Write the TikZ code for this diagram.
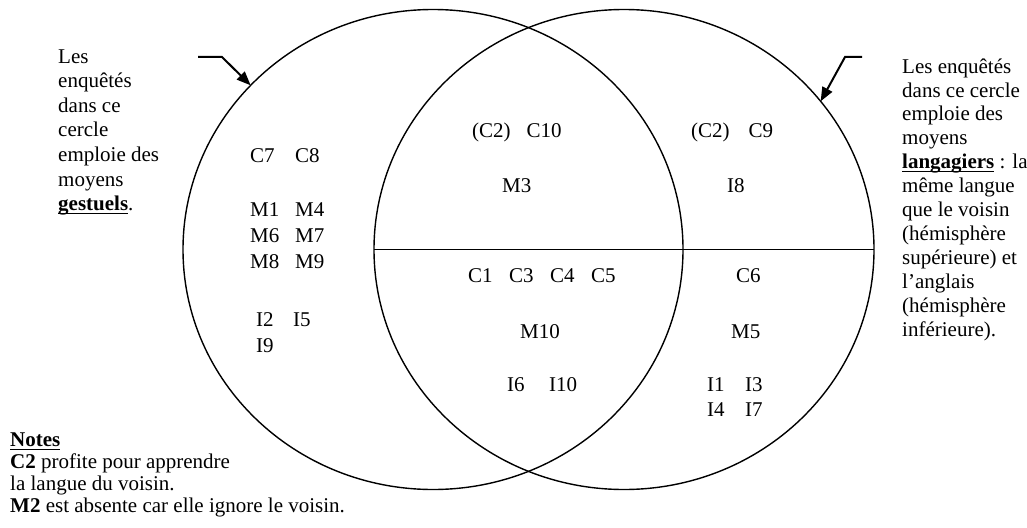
\documentclass[tikz,border=0pt]{standalone}
\usepackage{fontspec}
\setmainfont{Liberation Serif}
\usetikzlibrary{arrows.meta,shapes.geometric}

% soulignement proche de la ligne de base
\newcommand{\souligne}[1]{\setbox0\hbox{#1}\rlap{\rule[-3.5pt]{\wd0}{1.2pt}}\box0\relax}

\tikzset{
  cercle/.style={draw, ellipse, line width=1.4pt, minimum width=500pt,
    minimum height=480pt, inner sep=0pt, outer sep=0pt},
  etiq/.style={anchor=base west, inner sep=0pt, font=\fontsize{21}{24}\selectfont},
  bloc/.style={etiq, align=left},
  fleche/.style={line width=2pt, -{Triangle[length=14pt,width=11pt]}},
}

\begin{document}
\begin{tikzpicture}[x=1pt,y=-1pt]
  \useasboundingbox (0,0) rectangle (1027,527);

  % les deux cercles
  \node[cercle] (gauche) at (433,249.5) {};
  \node[cercle] (droite) at (624,249.5) {};
  \draw[line width=1.4pt] (droite.west) -- (droite.east);

  % textes explicatifs (base = derniere ligne)
  \node[bloc, font=\fontsize{21}{24.6}\selectfont] (txtgauche) at (58,210.6)
    {Les\\enquêtés\\dans ce\\cercle\\emploie des\\moyens\\\souligne{\textbf{gestuels}}.};
  \node[bloc, font=\fontsize{21}{23.9}\selectfont] (txtdroite) at (902,336)
    {Les enquêtés\\dans ce cercle\\emploie des\\moyens\\\souligne{\textbf{langagiers}} : la\\même langue\\que le voisin\\(hémisphère\\supérieure) et\\l’anglais\\(hémisphère\\inférieure).};
  \node[bloc, font=\fontsize{21}{21.7}\selectfont] (notes) at (10,512)
    {\souligne{\textbf{Notes}}\\\textbf{C2} profite pour apprendre\\la langue du voisin.\\\textbf{M2} est absente car elle ignore le voisin.};

  % fleches
  \coordinate (g1) at (198,57);
  \coordinate (g2) at (222,57);
  \draw[fleche] (g1) -- (g2) -- (gauche.138);
  \coordinate (d1) at (862,57);
  \coordinate (d2) at (845,57);
  \draw[fleche] (d1) -- (d2) -- (droite.37);

  % cercle gauche seul
  \node[etiq] (c7) at (250,162) {\makebox[45pt][l]{C7}C8};
  \node[bloc, font=\fontsize{21}{26}\selectfont] (mg) at (250,268)
    {\makebox[45pt][l]{M1}M4\\\makebox[45pt][l]{M6}M7\\\makebox[45pt][l]{M8}M9};
  \node[bloc, font=\fontsize{21}{26}\selectfont] (ig) at (256,352)
    {\makebox[37pt][l]{I2}I5\\I9};

  % intersection
  \node[etiq] (c10) at (472,137) {(C2)\hspace{16pt}C10};
  \node[etiq] (m3) at (502,192) {M3};
  \node[etiq] (c1) at (468,282)
    {\makebox[41pt][l]{C1}\makebox[41pt][l]{C3}\makebox[41pt][l]{C4}C5};
  \node[etiq] (m10) at (520,338) {M10};
  \node[etiq] (i6) at (507,391) {\makebox[42pt][l]{I6}I10};

  % cercle droit seul
  \node[etiq] (c9) at (691,137) {(C2)\hspace{19pt}C9};
  \node[etiq] (i8) at (727,192) {I8};
  \node[etiq] (c6) at (736,282) {C6};
  \node[etiq] (m5) at (731,338) {M5};
  \node[bloc, font=\fontsize{21}{25}\selectfont] (id) at (707,416)
    {\makebox[38pt][l]{I1}I3\\\makebox[38pt][l]{I4}I7};
\end{tikzpicture}
\end{document}
